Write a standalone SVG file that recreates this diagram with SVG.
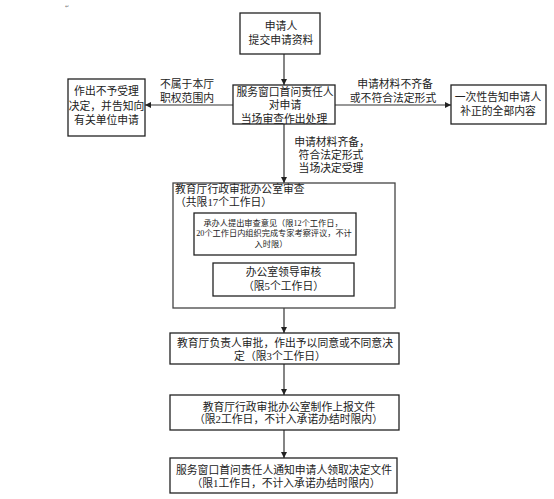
<svg xmlns="http://www.w3.org/2000/svg" width="554" height="499" viewBox="0 0 554 499">
<defs>
<style>
.b{fill:#fff;stroke:#222;stroke-width:1.3}
.o{fill:#fff;stroke:#444;stroke-width:1.3}
.c{fill:none;stroke:#333;stroke-width:1.2}
text{font-family:"Liberation Serif","Noto Sans CJK SC",serif;fill:#222;text-anchor:middle;dominant-baseline:central}
.t{font-size:10.8px}
.s{font-size:8.2px}
.l{text-anchor:start}
</style>
<marker id="ah" viewBox="0 0 6 6" refX="6" refY="3" markerWidth="6" markerHeight="6" markerUnits="userSpaceOnUse" orient="auto">
<path d="M0,0 L6,3 L0,6 z" fill="#222"/>
</marker>
</defs>
<rect width="554" height="499" fill="#fff"/>
<text x="67" y="6" style="font-size:5px;fill:#777">↵</text>

<g id="connectors">
<line class="c" x1="284" y1="54" x2="284" y2="85" marker-end="url(#ah)"/>
<line class="c" x1="233" y1="105" x2="145" y2="105" marker-end="url(#ah)"/>
<line class="c" x1="335" y1="105" x2="451" y2="105" marker-end="url(#ah)"/>
<line class="c" x1="284" y1="124" x2="284" y2="183" marker-end="url(#ah)"/>
<polyline class="c" points="277,255 277,259 284,259 284,263" marker-end="url(#ah)"/>
<line class="c" x1="284" y1="308" x2="284" y2="333" marker-end="url(#ah)"/>
<line class="c" x1="284" y1="364" x2="284" y2="395" marker-end="url(#ah)"/>
<line class="c" x1="284" y1="430" x2="284" y2="458" marker-end="url(#ah)"/>
<g class="t">
<text x="187" y="84">不属于本厅</text>
<text x="187" y="98">职权范围内</text>
<text x="395" y="84">申请材料不齐备</text>
<text x="393" y="97.5">或不符合法定形式</text>
<text x="332" y="142">申请材料齐备，</text>
<text x="331" y="155">符合法定形式</text>
<text x="331" y="168">当场决定受理</text>
</g>
</g>

<g id="n1" class="t">
<rect class="b" x="240" y="13" width="80" height="41"/>
<text x="281" y="26">申请人</text>
<text x="281" y="40">提交申请资料</text>
</g>

<g id="n2" class="t">
<rect class="b" x="233" y="85" width="102" height="39"/>
<text x="285" y="91.5">服务窗口首问责任人</text>
<text x="285" y="105">对申请</text>
<text x="284" y="118.5">当场审查作出处理</text>
</g>

<g id="n3" class="t">
<rect class="b" x="68" y="79" width="77" height="57"/>
<text x="106.5" y="91">作出不予受理</text>
<text x="106.5" y="105.5">决定，并告知向</text>
<text x="106.5" y="120">有关单位申请</text>
</g>

<g id="n4" class="t">
<rect class="b" x="451" y="85" width="95" height="39"/>
<text x="498" y="97">一次性告知申请人</text>
<text x="498" y="111">补正的全部内容</text>
</g>

<g id="n5">
<rect class="o" x="173" y="183" width="222" height="125"/>
<text class="t l" x="175" y="189">教育厅行政审批办公室审查</text>
<text class="t l" x="175" y="202">（共限17个工作日）</text>
</g>

<g id="n6" class="s">
<rect class="b" x="194" y="213" width="162" height="42"/>
<text x="273" y="223">承办人提出审查意见（限12个工作日，</text>
<text x="274" y="233.5">20个工作日内组织完成专家考察评议，不计</text>
<text x="271" y="244">入时限）</text>
</g>

<g id="n7" class="t">
<rect class="b" x="213" y="263" width="141" height="33"/>
<text x="283.5" y="272">办公室领导审核</text>
<text x="283.5" y="286">（限5个工作日）</text>
</g>

<g id="n8" class="t">
<rect class="b" x="170" y="333" width="229" height="31"/>
<text x="285" y="343">教育厅负责人审批，作出予以同意或不同意决</text>
<text x="280" y="356">定（限3个工作日）</text>
</g>

<g id="n9" class="t">
<rect class="b" x="170" y="395" width="229" height="35"/>
<text x="289" y="406.5">教育厅行政审批办公室制作上报文件</text>
<text x="288.5" y="419">（限2工作日，不计入承诺办结时限内）</text>
</g>

<g id="n10" class="t">
<rect class="b" x="170" y="458" width="227" height="35"/>
<text x="284" y="470">服务窗口首问责任人通知申请人领取决定文件</text>
<text x="286" y="482.5">（限1工作日，不计入承诺办结时限内）</text>
</g>
</svg>
